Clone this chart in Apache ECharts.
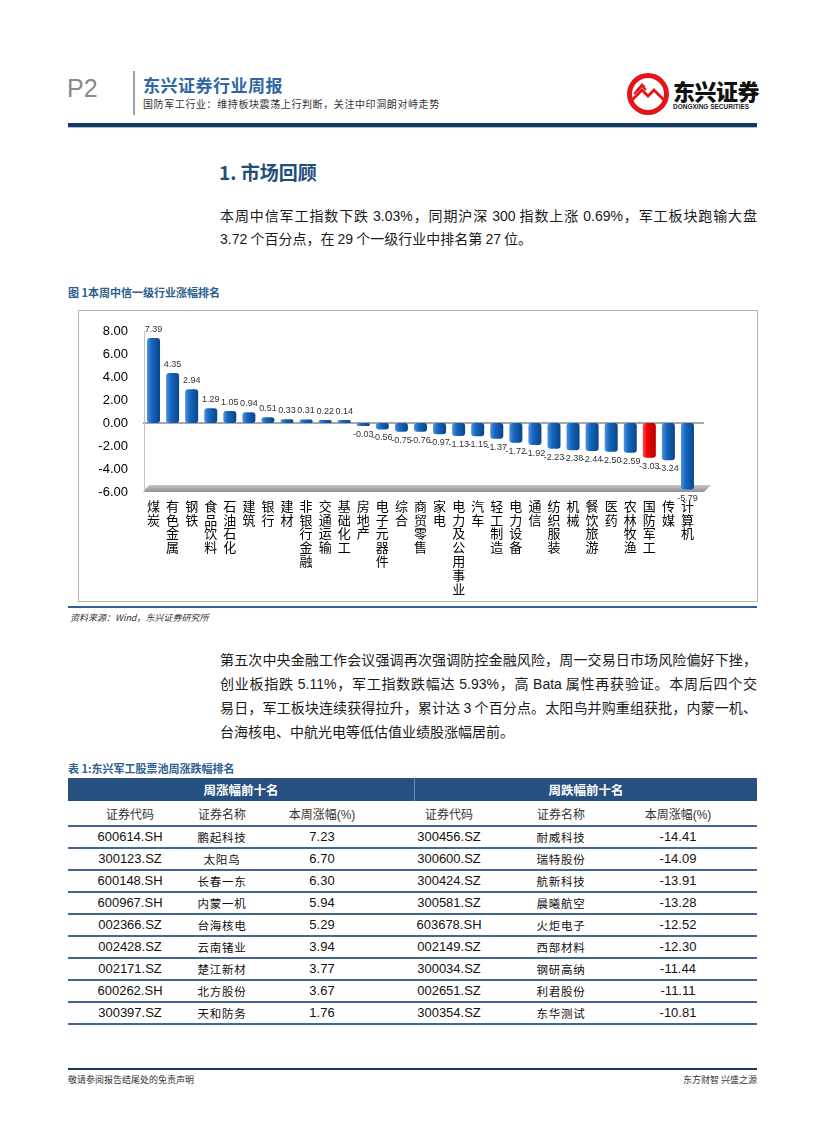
<!DOCTYPE html>
<html><head><meta charset="utf-8">
<script src="https://cdn.jsdelivr.net/npm/echarts@6/dist/echarts.min.js"></script>
<style>
html,body{margin:0;padding:0;background:#fff;}
body{width:827px;height:1122px;position:relative;overflow:hidden;font-family:"Noto Sans CJK SC","Noto Sans",sans-serif;color:#1a1a1a;}
.abs{position:absolute;white-space:nowrap;}
.para{position:absolute;left:220px;width:537px;font-size:14px;height:24px;line-height:24px;white-space:nowrap;}
.just{text-align:justify;text-align-last:justify;}
.num{font-family:"Liberation Sans",Arial,sans-serif;}
.rule{position:absolute;left:68px;width:689px;height:2px;background:#43688f;}
.cell{position:absolute;width:120px;text-align:center;height:22px;line-height:22px;}
</style></head>
<body>
<!-- header -->
<div class="abs" style="left:67px;top:74px;font-size:25px;color:#8a8a8a;font-family:'Liberation Sans',Arial,sans-serif;">P2</div>
<div class="abs" style="left:133px;top:71px;width:2px;height:44px;background:#a0a0a0;"></div>
<div class="abs" style="left:143px;top:72px;font-size:17px;font-weight:bold;color:#2f66a3;letter-spacing:0.5px;">东兴证券行业周报</div>
<div class="abs" style="left:143px;top:96px;font-size:10px;color:#333;letter-spacing:0.6px;">国防军工行业：维持板块震荡上行判断，关注中印洞朗对峙走势</div>
<svg class="abs" style="left:626px;top:71px;" width="46" height="46" viewBox="0 0 46 46">
 <circle cx="22" cy="23" r="21" fill="#e3141b"/>
 <circle cx="22" cy="23" r="16" fill="#fff"/>
 <path d="M6 27 L16 17 L22 23 L28 17 L38 27 L38 31 L28 21 L22 27 L16 21 L6 31 Z" fill="#e3141b"/>
 <path d="M8 23 L16 15 L20 19" stroke="#e3141b" stroke-width="2" fill="none"/>
 <path d="M10 20 L16 13 L19 16" stroke="#e3141b" stroke-width="1.5" fill="none"/>
</svg>
<div class="abs" style="left:673px;top:74px;font-size:22px;font-weight:900;color:#111;letter-spacing:-0.5px;">东兴证券</div>
<div class="abs" style="left:673px;top:103px;font-size:6.5px;font-weight:bold;color:#222;font-family:'Liberation Sans',Arial,sans-serif;">DONGXING SECURITIES</div>
<div class="abs" style="left:68px;top:123px;width:689px;height:4px;background:#17375e;"></div>
<div class="abs" style="left:68px;top:127px;width:689px;height:1px;background:#9dc3e6;"></div>

<!-- section -->
<div class="abs" style="left:219px;top:158px;font-size:19px;font-weight:bold;color:#1f4e79;">1. 市场回顾</div>
<div class="para just" style="top:203px;">本周中信军工指数下跌 <span class="num">3.03%</span>，同期沪深 <span class="num">300</span> 指数上涨 <span class="num">0.69%</span>，军工板块跑输大盘</div>
<div class="para" style="top:226px;"><span class="num">3.72</span> 个百分点，在 <span class="num">29</span> 个一级行业中排名第 <span class="num">27</span> 位。</div>

<div class="abs" style="left:68px;top:284px;font-size:11px;font-weight:bold;color:#2e5d8f;">图 1本周中信一级行业涨幅排名</div>
<div id="chart" style="position:absolute;left:78px;top:310px;width:680px;height:292px;border:1px solid #b4b4b4;box-sizing:border-box;"></div>
<div class="abs" style="left:68px;top:606px;width:689px;height:2px;background:#2f5f93;"></div>
<div class="abs" style="left:70px;top:611px;font-size:9px;font-style:italic;color:#333;">资料来源：Wind，东兴证券研究所</div>

<div class="para just" style="top:647px;">第五次中央金融工作会议强调再次强调防控金融风险，周一交易日市场风险偏好下挫，</div>
<div class="para just" style="top:671px;">创业板指跌 <span class="num">5.11%</span>，军工指数跌幅达 <span class="num">5.93%</span>，高 <span class="num">Bata</span> 属性再获验证。本周后四个交</div>
<div class="para just" style="top:695px;">易日，军工板块连续获得拉升，累计达 <span class="num">3</span> 个百分点。太阳鸟并购重组获批，内蒙一机、</div>
<div class="para" style="top:719px;">台海核电、中航光电等低估值业绩股涨幅居前。</div>

<div class="abs" style="left:68px;top:760px;font-size:11px;font-weight:bold;color:#2e5d8f;">表 1:东兴军工股票池周涨跌幅排名</div>
<div id="table"></div>

<div class="abs" style="left:68px;top:1068px;width:689px;height:2px;background:#17375e;"></div>
<div class="abs" style="left:68px;top:1073px;font-size:9px;color:#333;">敬请参阅报告结尾处的免责声明</div>
<div class="abs" style="left:667px;top:1073px;width:90px;text-align:right;font-size:9px;color:#333;">东方财智 兴盛之源</div>

<script>
// ---- chart data ----
const categories = ['煤炭','有色金属','钢铁','食品饮料','石油石化','建筑','银行','建材','非银行金融','交通运输','基础化工','房地产','电子元器件','综合','商贸零售','家电','电力及公用事业','汽车','轻工制造','电力设备','通信','纺织服装','机械','餐饮旅游','医药','农林牧渔','国防军工','传媒','计算机'];
const values = [7.39,4.35,2.94,1.29,1.05,0.94,0.51,0.33,0.31,0.22,0.14,-0.03,-0.56,-0.75,-0.76,-0.97,-1.13,-1.15,-1.37,-1.72,-1.92,-2.23,-2.38,-2.44,-2.50,-2.59,-3.03,-3.24,-5.79];
const highlightCategory = '国防军工';
const yMin = -6, yMax = 8, yStep = 2;

// ---- table data ----
const tableGroups = ['周涨幅前十名','周跌幅前十名'];
const tableColumns = ['证券代码','证券名称','本周涨幅(%)','证券代码','证券名称','本周涨幅(%)'];
const gainCodes = ['600614.SH','300123.SZ','600148.SH','600967.SH','002366.SZ','002428.SZ','002171.SZ','600262.SH','300397.SZ'];
const gainNames = ['鹏起科技','太阳鸟','长春一东','内蒙一机','台海核电','云南锗业','楚江新材','北方股份','天和防务'];
const gainPct = ['7.23','6.70','6.30','5.94','5.29','3.94','3.77','3.67','1.76'];
const lossCodes = ['300456.SZ','300600.SZ','300424.SZ','300581.SZ','603678.SH','002149.SZ','300034.SZ','002651.SZ','300354.SZ'];
const lossNames = ['耐威科技','瑞特股份','航新科技','晨曦航空','火炬电子','西部材料','钢研高纳','利君股份','东华测试'];
const lossPct = ['-14.41','-14.09','-13.91','-13.28','-12.52','-12.30','-11.44','-11.11','-10.81'];

// ---- build table ----
(function(){
  const t = document.getElementById('table');
  let h = '';
  h += '<div class="abs" style="left:68px;top:778px;width:689px;height:23px;background:#25507f;"></div>';
  h += '<div class="abs" style="left:414px;top:778px;width:1px;height:23px;background:#6f8fb5;"></div>';
  h += '<div class="abs" style="left:68px;top:778px;width:346px;height:23px;line-height:23px;text-align:center;color:#fff;font-weight:bold;font-size:12.5px;">'+tableGroups[0]+'</div>';
  h += '<div class="abs" style="left:415px;top:778px;width:342px;height:23px;line-height:23px;text-align:center;color:#fff;font-weight:bold;font-size:12.5px;">'+tableGroups[1]+'</div>';
  const cx = [130,222,322,449,561,678];
  tableColumns.forEach((c,i)=>{
    const isPct = c.indexOf('(%)')>=0;
    const txt = isPct ? c.replace('(%)','<span class="num">(%)</span>') : c;
    h += '<div class="cell" style="left:'+(cx[i]-60)+'px;top:803px;font-size:12px;color:#333;">'+txt+'</div>';
  });
  h += '<div class="rule" style="top:825px;"></div>';
  for(let r=0;r<gainCodes.length;r++){
    const top = 826 + 22*r;
    const row = [gainCodes[r],gainNames[r],gainPct[r],lossCodes[r],lossNames[r],lossPct[r]];
    row.forEach((v,i)=>{
      const isName = (i===1||i===4);
      h += '<div class="cell '+(isName?'':'num')+'" style="left:'+(cx[i]-60)+'px;top:'+top+'px;font-size:'+(isName?'11.5px':'13px')+';color:#111;'+(isName?'letter-spacing:0.8px;':'')+'">'+v+'</div>';
    });
    h += '<div class="rule" style="top:'+(top+21)+'px;"></div>';
  }
  t.innerHTML = h;
})();

// ---- chart ----
const chart = echarts.init(document.getElementById('chart'), null, {renderer:'canvas'});
function grad(a,b,c){
  return new echarts.graphic.LinearGradient(0,0,1,0,[
    {offset:0,color:a},{offset:0.35,color:b},{offset:1,color:c}]);
}
const barData = values.map((v,i)=>{
  const hot = categories[i]===highlightCategory;
  return {
    value: v,
    itemStyle: {color: hot ? grad('#ff4a4a','#f00000','#b80000') : grad('#4f93dc','#1668c2','#0a4585')},
    label: {position: v>=0 ? 'top' : 'bottom'}
  };
});
const option = {
  animation:false,
  grid:{left:65, right:60, top:20, bottom:109, containLabel:false, outerBoundsMode:'none'},
  xAxis:{
    type:'category', data:categories,
    axisLine:{show:false}, axisTick:{show:false},
    axisLabel:{interval:0, margin:7, fontSize:13, lineHeight:13.8, color:'#000',
      fontFamily:'Noto Sans CJK SC',
      formatter:(c)=>c.split('').join('\n')}
  },
  yAxis:{
    type:'value', min:yMin, max:yMax, interval:yStep,
    axisLine:{show:true, lineStyle:{color:'#c4c4c4', width:1}},
    axisTick:{show:false}, splitLine:{show:false},
    axisLabel:{margin:16, fontSize:13, color:'#000', fontFamily:'Liberation Sans',
      formatter:(v)=>v.toFixed(2)}
  },
  series:[{
    type:'bar', data:barData, barWidth:13, barMinHeight:3,
    itemStyle:{borderRadius:3},
    label:{show:true, fontSize:9, color:'#333', distance:4, fontFamily:'Liberation Sans',
      formatter:(p)=>p.value.toFixed(2)}
  }]
};
chart.setOption(option);
const y0 = chart.convertToPixel({yAxisIndex:0}, 0);
const yB = chart.convertToPixel({yAxisIndex:0}, yMin);
const xL = 64, xR = 625;
chart.setOption({graphic:[
  {type:'polygon', z:-1, shape:{points:[[xL,yB],[xL+6,yB-7],[xR+7,yB-7],[xR,yB]]},
   style:{fill:new echarts.graphic.LinearGradient(0,0,0,1,[{offset:0,color:'#c8c8c8'},{offset:1,color:'#8f8f8f'}])}},
  {type:'line', z:-1, shape:{x1:xL,y1:y0,x2:xR,y2:y0}, style:{stroke:'#a8a8a8', lineWidth:2}}
]});
</script>
</body></html>
